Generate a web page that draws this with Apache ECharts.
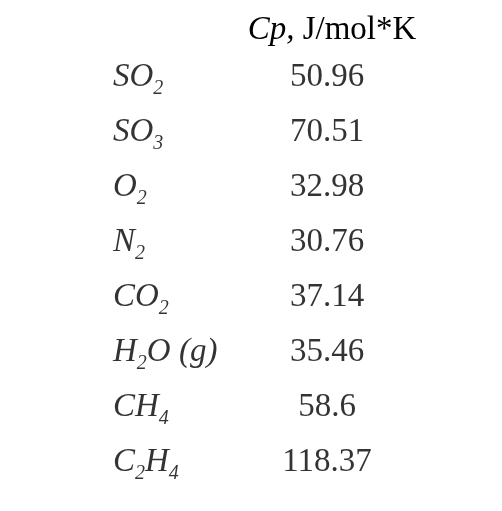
<!DOCTYPE html>
<html>
<head>
<meta charset="utf-8">
<script src="https://cdn.jsdelivr.net/npm/echarts@6/dist/echarts.min.js"></script>
<style>html,body{margin:0;background:#fff}#chart{width:502px;height:511px}</style>
</head>
<body>
<div id="chart"></div>
<script>
// table rows: species (rich-text formula) and heat capacity values
const species = ['{n|SO}{s|2}', '{n|SO}{s|3}', '{n|O}{s|2}', '{n|N}{s|2}', '{n|CO}{s|2}',
  '{n|H}{s|2}{n|O (g)}', '{n|CH}{s|4}', '{n|C}{s|2}{n|H}{s|4}'];
const cpValues = ['50.96', '70.51', '32.98', '30.76', '37.14', '35.46', '58.6', '118.37'];
const rows = species.map((s, i) => 'r' + i);

const font = '"Liberation Serif", "DejaVu Serif", serif';
let myChart = echarts.init(document.getElementById('chart'));
let option = {
  backgroundColor: '#fff',
  title: {
    text: '{i|Cp,} J/mol*K',
    left: 327, top: 9, textAlign: 'center',
    textStyle: {
      fontFamily: font, fontSize: 33, fontWeight: 'normal', color: '#000',
      rich: {i: {fontFamily: font, fontSize: 33, fontStyle: 'italic', color: '#000'}}
    }
  },
  grid: {left: 113, width: 214, top: 49.5, bottom: 21.5},
  xAxis: {type: 'value', min: 0, max: 1, show: false},
  yAxis: {type: 'category', data: rows, inverse: true, show: false},
  series: [
    {
      type: 'scatter', symbolSize: 0, silent: true,
      data: species.map((s, i) => [0, rows[i], s]),
      label: {
        show: true, position: 'right', distance: 0, color: '#000', textBorderWidth: 0,
        formatter: p => p.data[2],
        rich: {
          n: {fontFamily: font, fontSize: 33, fontStyle: 'italic', color: '#000'},
          s: {fontFamily: font, fontSize: 20, fontStyle: 'italic', color: '#000', padding: [24, 0, 0, 0]}
        }
      }
    },
    {
      type: 'scatter', symbolSize: 0, silent: true,
      data: cpValues.map((v, i) => [1, rows[i], v]),
      label: {
        show: true, position: 'inside', textBorderWidth: 0,
        formatter: p => p.data[2],
        fontFamily: font, fontSize: 33, color: '#000'
      }
    }
  ]
};
myChart.setOption(option);
</script>
</body>
</html>
